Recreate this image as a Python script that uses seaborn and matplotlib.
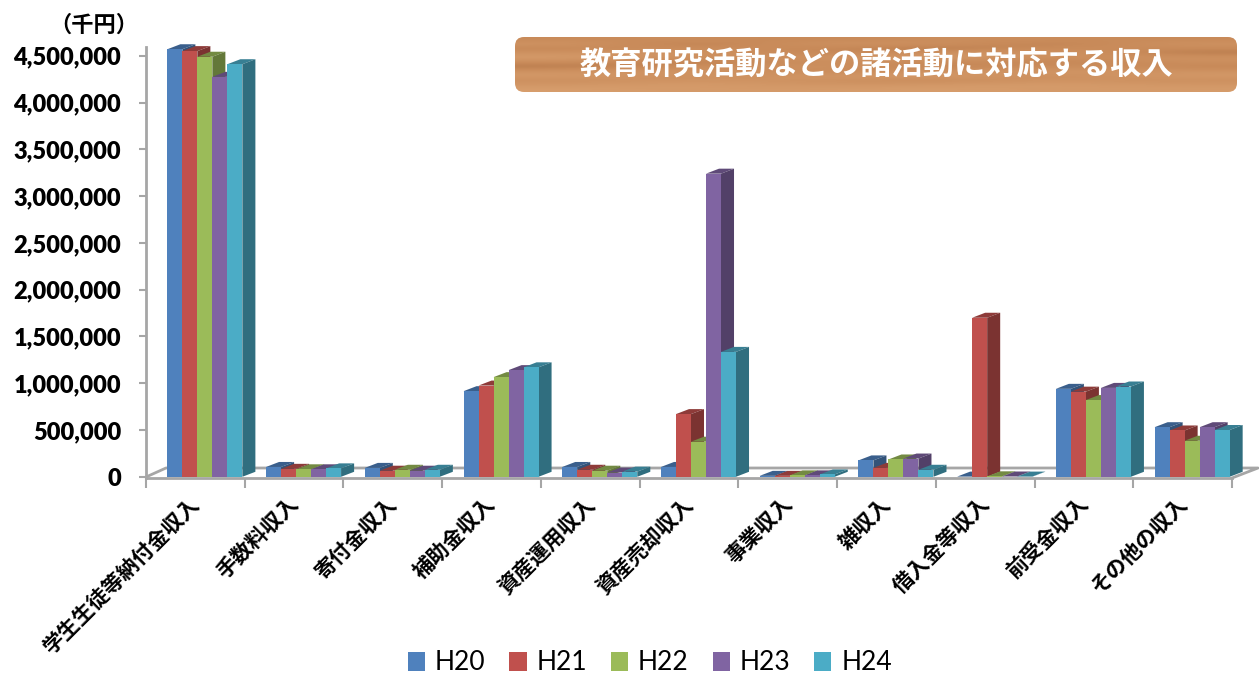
import numpy as np
import pandas as pd
import seaborn as sns
import matplotlib.pyplot as plt
from matplotlib.colors import to_rgb, LinearSegmentedColormap
from matplotlib.lines import Line2D
from matplotlib.patches import Polygon, FancyBboxPatch, Patch

categories = ['学生生徒等納付金収入', '手数料収入', '寄付金収入', '補助金収入', '資産運用収入',
              '資産売却収入', '事業収入', '雑収入', '借入金等収入', '前受金収入', 'その他の収入']
years = ['H20', 'H21', 'H22', 'H23', 'H24']
h20 = [4570000, 105000, 95000, 915000, 105000, 105000, 10000, 175000, 2000, 940000, 530000]
h21 = [4550000, 85000, 65000, 975000, 75000, 670000, 10000, 95000, 1700000, 910000, 495000]
h22 = [4490000, 80000, 75000, 1065000, 65000, 375000, 15000, 185000, 5000, 820000, 385000]
h23 = [4275000, 80000, 65000, 1140000, 45000, 3240000, 15000, 195000, 3000, 950000, 530000]
h24 = [4410000, 90000, 75000, 1170000, 55000, 1335000, 25000, 75000, 2000, 965000, 500000]
colors = ['#4F81BD', '#C0504D', '#9BBB59', '#8064A2', '#4BACC6']
yticks = [0, 500000, 1000000, 1500000, 2000000, 2500000, 3000000, 3500000, 4000000, 4500000]

W, H = 1259, 673
def fx(x):
    return x / W
def fy(y):
    return 1 - y / H

df = pd.DataFrame({
    'category': categories * 5,
    'year': np.repeat(years, len(categories)),
    'value': h20 + h21 + h22 + h23 + h24,
})

plt.rcParams['font.family'] = ['Noto Sans CJK JP', 'DejaVu Sans']
fig = plt.figure(figsize=(W / 100, H / 100), dpi=100)
ax = fig.add_axes([fx(146), fy(478), fx(1232 - 146), (478 - 47) / H])
ax.patch.set_alpha(0)

sns.barplot(data=df, x='category', y='value', hue='year', palette=colors, saturation=1,
            width=0.76, gap=0, dodge=True, legend=False, ax=ax)

# fake 3D: side and top faces hung on every seaborn bar
shift = 0.096
ax.set_xlim(-0.5 - shift, 10.5 - shift)
ax.set_ylim(-13000, 4594000)
depth_x = 13 / 98.5
depth_y = 5 / 93.6 * 1e6
for j, cont in enumerate(ax.containers):
    base = np.array(to_rgb(colors[j]))
    for bar in cont:
        x0, w, h = bar.get_x(), bar.get_width(), bar.get_height()
        x1 = x0 + w
        z = 3 + j * 0.1
        bar.set_zorder(z + 0.05)
        top = [(x0, h), (x1, h), (x1 + depth_x, h + depth_y), (x0 + depth_x, h + depth_y)]
        side = [(x1, 0), (x1 + depth_x, depth_y), (x1 + depth_x, h + depth_y), (x1, h)]
        ax.add_patch(Polygon(top, closed=True, fc=base * 0.74, ec='none', zorder=z, clip_on=False))
        ax.add_patch(Polygon(side, closed=True, fc=base * 0.64, ec='none', zorder=z, clip_on=False))

sns.despine(ax=ax, top=True, right=True)
for s in ['left', 'bottom']:
    ax.spines[s].set_color('#A6A6A6')
    ax.spines[s].set_linewidth(2)

ax.set_xlabel('')
ax.set_ylabel('')
ax.set_yticks(yticks)
ax.set_yticklabels([f'{v:,}' for v in yticks], fontfamily='Lato', fontweight='heavy', fontsize=17)
ax.tick_params(axis='y', length=5, width=1.5, color='#A6A6A6', pad=13)

n = len(categories)
edges = np.arange(n + 1) - 0.5 - shift
ax.set_xticks(edges, minor=True)
ax.tick_params(axis='x', which='minor', length=7, width=1.5, color='#A6A6A6')
ax.set_xticks(np.arange(n) - 0.16)
ax.set_xticklabels(categories, rotation=45, ha='right', va='top', rotation_mode='anchor',
                   fontsize=15.2, fontweight='bold')
ax.tick_params(axis='x', which='major', length=0, pad=11)

# floor of the 3D box
xs, ys = (146, 166, 1258, 1232), (477, 468, 468, 478)
fig.add_artist(Line2D([fx(v) for v in xs], [fy(v) for v in ys], color='#A6A6A6', lw=2, zorder=-1))

fig.text(fx(94), fy(25), '（千円）', ha='center', va='center', fontsize=16, fontweight='bold')

# wood banner
wood = LinearSegmentedColormap.from_list('wood', ['#A0653A', '#C88A59', '#D9A06F'])
band = [[0.5, 0.6, 0.45, 0.6, 0.55, 0.5],
        [0.75, 0.3, 0.7, 0.65, 0.35, 0.7],
        [0.45, 0.6, 0.5, 0.25, 0.6, 0.5],
        [0.7, 0.75, 0.4, 0.7, 0.75, 0.3],
        [0.9, 0.6, 0.7, 0.85, 0.6, 0.7],
        [0.55, 0.3, 0.6, 0.55, 0.4, 0.6],
        [0.3, 0.6, 0.75, 0.35, 0.65, 0.45],
        [0.7, 0.8, 0.45, 0.7, 0.8, 0.7],
        [0.85, 0.6, 0.8, 0.9, 0.55, 0.85],
        [0.6, 0.75, 0.65, 0.5, 0.75, 0.6],
        [0.8, 0.9, 0.75, 0.85, 0.9, 0.8],
        [0.95, 0.85, 0.9, 0.95, 0.85, 0.9]]
bx = fig.add_axes([fx(515), fy(92), fx(722), 55 / H])
bx.axis('off')
im = bx.imshow(band, cmap=wood, vmin=0, vmax=1, aspect='auto', extent=(0, 722, 0, 55), interpolation='bicubic')
clip = FancyBboxPatch((7, 7), 708, 41, boxstyle='round,pad=7,rounding_size=9', transform=bx.transData, fc='none', ec='none')
bx.add_patch(clip)
im.set_clip_path(clip)
bx.text(361, 27, '教育研究活動などの諸活動に対応する収入', color='white', ha='center', va='center',
        fontsize=22.5, fontweight='bold')

handles = [Patch(fc=c, ec='none', label=y) for c, y in zip(colors, years)]
fig.legend(handles=handles, loc='center', bbox_to_anchor=(fx(650), fy(663)), ncol=5, frameon=False,
           prop={'family': 'Lato', 'size': 19}, handlelength=0.65, handleheight=0.75,
           handletextpad=0.38, columnspacing=0.9, borderpad=0)

plt.savefig('out.png', dpi=100)
